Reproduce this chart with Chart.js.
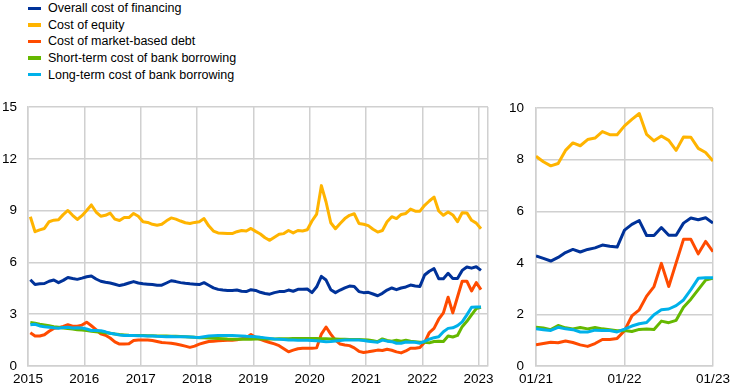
<!DOCTYPE html>
<html>
<head>
<meta charset="utf-8">
<script src="https://cdn.jsdelivr.net/npm/chart.js@4.4.1/dist/chart.umd.min.js"></script>
<style>
  body { margin: 0; background: #fff; font-family: "Liberation Sans", Arial, sans-serif; }
  #wrap { position: relative; width: 742px; height: 392px; overflow: hidden; }
  #legend { position: absolute; left: 28px; top: 0; }
  .item { height: 16.6px; display: flex; align-items: center; font-size: 12.5px; color: #000; white-space: nowrap; }
  .mk { width: 13px; height: 3.5px; margin-right: 7px; }
  canvas { position: absolute; top: 88px; }
</style>
</head>
<body>
<div id="wrap">
  <div id="legend"></div>
  <canvas id="longRun" width="500" height="304" style="left:0"></canvas>
  <canvas id="recent" width="242" height="304" style="left:500px"></canvas>
</div>
<script>
// monthly, Jan 2015 .. Jan 2023 (97 points), percentages
const seriesNames = [
  "Overall cost of financing",
  "Cost of equity",
  "Cost of market-based debt",
  "Short-term cost of bank borrowing",
  "Long-term cost of bank borrowing"
];
const seriesColors = ["#003299", "#FFB400", "#FF4B00", "#65B800", "#00B1EA"];

const overall = [
  5.00, 4.72, 4.76, 4.78, 4.91, 4.98, 4.83, 4.96, 5.13, 5.07, 5.02, 5.09,
  5.17, 5.22, 5.04, 4.91, 4.85, 4.81, 4.74, 4.66, 4.72, 4.81, 4.89, 4.81,
  4.76, 4.74, 4.72, 4.68, 4.68, 4.81, 4.94, 4.89, 4.83, 4.79, 4.76, 4.74,
  4.72, 4.83, 4.68, 4.53, 4.44, 4.40, 4.38, 4.38, 4.40, 4.33, 4.31, 4.42,
  4.38, 4.27, 4.20, 4.16, 4.25, 4.31, 4.31, 4.40, 4.33, 4.44, 4.44, 4.46,
  4.25, 4.59, 5.19, 4.98, 4.42, 4.25, 4.40, 4.53, 4.63, 4.61, 4.31, 4.25,
  4.27, 4.17, 4.07, 4.21, 4.40, 4.52, 4.42, 4.52, 4.58, 4.69, 4.64, 4.61,
  5.27, 5.49, 5.64, 5.06, 5.06, 5.37, 5.07, 5.07, 5.54, 5.74, 5.67, 5.75,
  5.54
];
const equity = [
  8.65, 7.78, 7.89, 7.97, 8.36, 8.45, 8.47, 8.77, 9.01, 8.73, 8.49, 8.71,
  9.01, 9.33, 8.92, 8.68, 8.73, 8.86, 8.51, 8.43, 8.60, 8.60, 8.84, 8.68,
  8.36, 8.32, 8.21, 8.15, 8.21, 8.41, 8.58, 8.51, 8.40, 8.30, 8.26, 8.32,
  8.36, 8.54, 8.12, 7.82, 7.71, 7.69, 7.67, 7.67, 7.78, 7.85, 7.82, 7.97,
  7.80, 7.65, 7.43, 7.28, 7.46, 7.63, 7.67, 7.85, 7.71, 7.85, 7.82, 7.89,
  8.40, 8.80, 10.45, 9.50, 8.30, 7.95, 8.26, 8.54, 8.73, 8.82, 8.26, 8.21,
  8.13, 7.92, 7.76, 7.85, 8.36, 8.65, 8.54, 8.78, 8.84, 9.09, 8.97, 8.97,
  9.31, 9.56, 9.79, 8.98, 8.73, 8.92, 8.75, 8.36, 8.88, 8.87, 8.44, 8.28,
  7.95
];
const marketDebt = [
  1.92, 1.74, 1.74, 1.81, 2.01, 2.18, 2.22, 2.29, 2.39, 2.31, 2.31, 2.37,
  2.54, 2.33, 2.11, 1.86, 1.78, 1.62, 1.40, 1.27, 1.27, 1.29, 1.48, 1.51,
  1.50, 1.50, 1.48, 1.42, 1.36, 1.34, 1.32, 1.27, 1.22, 1.15, 1.08, 1.15,
  1.27, 1.35, 1.42, 1.44, 1.46, 1.48, 1.49, 1.49, 1.52, 1.58, 1.64, 1.83,
  1.65, 1.55, 1.45, 1.36, 1.28, 1.18, 1.00, 0.82, 0.92, 1.00, 1.03, 1.03,
  1.03, 1.05, 1.85, 2.26, 1.85, 1.50, 1.27, 1.22, 1.18, 1.05, 0.85, 0.78,
  0.82, 0.87, 0.92, 0.90, 0.97, 0.91, 0.82, 0.76, 0.87, 1.03, 1.03, 1.07,
  1.37, 1.94, 2.18, 2.71, 3.08, 3.98, 3.08, 4.00, 4.91, 4.91, 4.35, 4.83,
  4.43
];
const shortBank = [
  2.52, 2.48, 2.42, 2.38, 2.33, 2.28, 2.24, 2.20, 2.17, 2.14, 2.10, 2.08,
  2.05, 2.02, 1.99, 1.96, 1.93, 1.90, 1.85, 1.82, 1.80, 1.78, 1.77, 1.76,
  1.76, 1.75, 1.75, 1.74, 1.74, 1.74, 1.73, 1.72, 1.71, 1.70, 1.68, 1.66,
  1.64, 1.63, 1.62, 1.61, 1.60, 1.58, 1.56, 1.55, 1.55, 1.55, 1.55, 1.55,
  1.56, 1.56, 1.57, 1.57, 1.57, 1.58, 1.58, 1.58, 1.59, 1.59, 1.59, 1.60,
  1.60, 1.59, 1.58, 1.58, 1.57, 1.56, 1.55, 1.55, 1.54, 1.54, 1.53, 1.52,
  1.50, 1.47, 1.41, 1.57, 1.48, 1.44, 1.49, 1.44, 1.49, 1.44, 1.41, 1.37,
  1.38, 1.34, 1.42, 1.43, 1.42, 1.74, 1.68, 1.77, 2.28, 2.59, 2.96, 3.33,
  3.40
];
const longBank = [
  2.39, 2.42, 2.32, 2.28, 2.25, 2.21, 2.19, 2.23, 2.25, 2.20, 2.22, 2.20,
  2.14, 2.06, 2.05, 2.04, 1.98, 1.90, 1.85, 1.80, 1.77, 1.76, 1.76, 1.75,
  1.75, 1.74, 1.74, 1.72, 1.71, 1.70, 1.71, 1.70, 1.70, 1.70, 1.68, 1.66,
  1.65, 1.70, 1.74, 1.75, 1.76, 1.77, 1.77, 1.76, 1.75, 1.74, 1.72, 1.71,
  1.70, 1.66, 1.63, 1.60, 1.57, 1.55, 1.53, 1.51, 1.50, 1.49, 1.49, 1.49,
  1.48, 1.46, 1.43, 1.41, 1.42, 1.45, 1.48, 1.50, 1.51, 1.51, 1.50, 1.48,
  1.44, 1.41, 1.38, 1.50, 1.44, 1.41, 1.32, 1.32, 1.39, 1.38, 1.38, 1.32,
  1.43, 1.55, 1.64, 1.69, 1.99, 2.18, 2.21, 2.34, 2.56, 2.96, 3.40, 3.42,
  3.42
];

const yearLabels = ["2015", "2016", "2017", "2018", "2019", "2020", "2021", "2022", "2023"];
const recentLabels = ["01/21", "01/22", "01/23"];
const recentStart = 72; // Jan 2021

const allSeries = [overall, equity, marketDebt, shortBank, longBank];
const gridColor = "#d0d0d0";
const tickFont = { family: "'Liberation Sans', Arial, sans-serif", size: 13.5 };

// legend
const legendBox = document.getElementById("legend");
seriesNames.forEach((name, i) => {
  const row = document.createElement("div");
  row.className = "item";
  row.innerHTML = '<span class="mk" style="background:' + seriesColors[i] + '"></span>' + name;
  legendBox.appendChild(row);
});

function makeDatasets(offset, from) {
  return allSeries.map((vals, i) => ({
    label: seriesNames[i],
    data: vals.slice(from).map((v, j) => ({ x: j + offset, y: v })),
    borderColor: seriesColors[i],
    backgroundColor: seriesColors[i],
    borderWidth: 3,
    pointRadius: 0,
    tension: 0,
    borderJoinStyle: "round",
    order: allSeries.length - 1 - i  // later series drawn on top
  }));
}

const gridOpts = () => ({ drawTicks: false, color: gridColor, lineWidth: 1.5 });
const borderOpts = () => ({ color: gridColor, width: 1.5 });

const common = {
  responsive: false,
  animation: false,
  devicePixelRatio: 1,
  plugins: { legend: { display: false }, tooltip: { enabled: false } }
};

new Chart(document.getElementById("longRun"), {
  type: "line",
  data: { datasets: makeDatasets(0.5, 0) },
  options: {
    ...common,
    layout: { padding: { top: 10, right: 12, left: 0, bottom: 0 } },
    scales: {
      x: {
        type: "linear",
        min: 0,
        max: 98,
        afterBuildTicks: (s) => {
          s.ticks = [0, 12, 24, 36, 48, 60, 72, 84, 96, 98].map(v => ({ value: v }));
        },
        afterFit: (s) => { s.height = 26; },
        grid: gridOpts(),
        border: borderOpts(),
        ticks: {
          autoSkip: false,
          maxRotation: 0,
          padding: 5,
          color: "#000",
          font: tickFont,
          callback: (v) => (v % 12 === 0 ? yearLabels[v / 12] : "")
        }
      },
      y: {
        type: "linear",
        min: 0,
        max: 15,
        afterFit: (s) => { s.width = 28; },
        grid: gridOpts(),
        border: borderOpts(),
        ticks: { stepSize: 3, padding: 11, color: "#000", font: tickFont }
      }
    }
  }
});

new Chart(document.getElementById("recent"), {
  type: "line",
  data: { datasets: makeDatasets(0, recentStart) },
  options: {
    ...common,
    layout: { padding: { top: 10, right: 29, left: 0, bottom: 0 } },
    scales: {
      x: {
        type: "linear",
        min: 0,
        max: 24,
        afterFit: (s) => { s.height = 26; },
        grid: gridOpts(),
        border: borderOpts(),
        ticks: {
          stepSize: 12,
          autoSkip: false,
          maxRotation: 0,
          padding: 5,
          color: "#000",
          font: tickFont,
          callback: (v) => recentLabels[v / 12]
        }
      },
      y: {
        type: "linear",
        min: 0,
        max: 10,
        afterFit: (s) => { s.width = 36; },
        grid: gridOpts(),
        border: borderOpts(),
        ticks: { stepSize: 2, padding: 12, color: "#000", font: tickFont }
      }
    }
  }
});
</script>
</body>
</html>
